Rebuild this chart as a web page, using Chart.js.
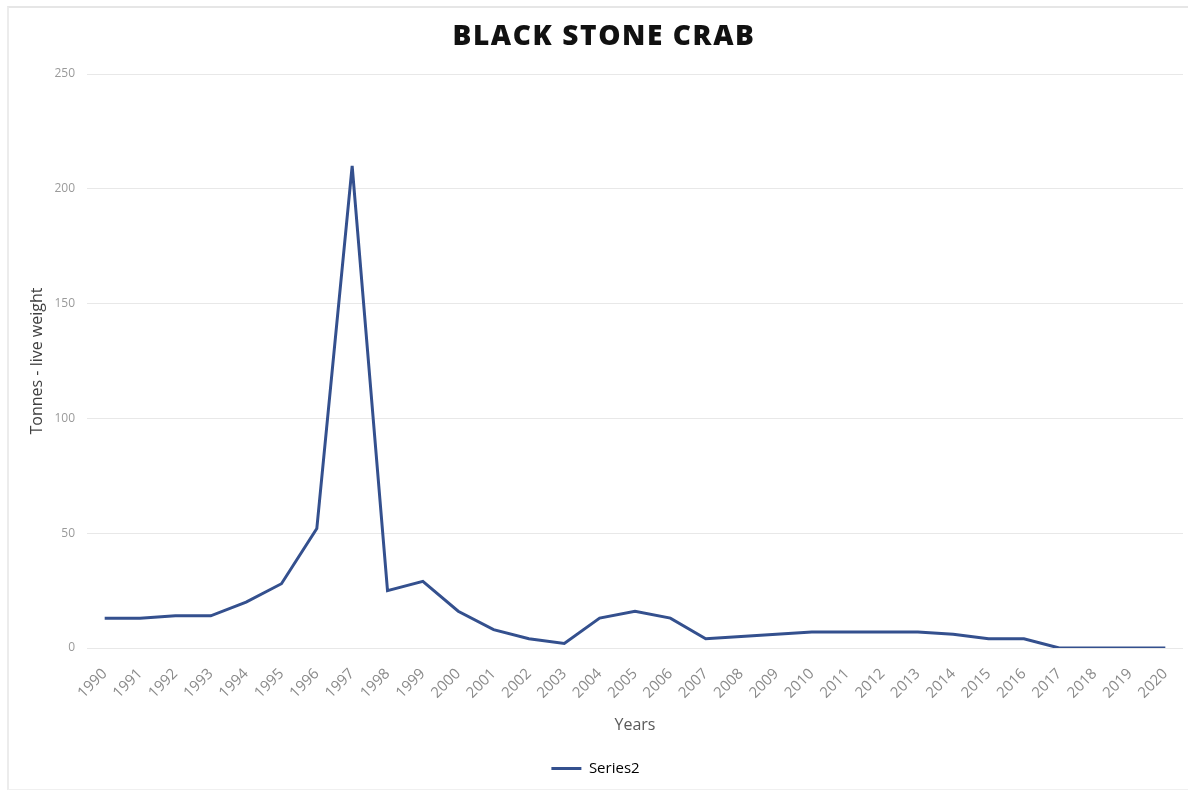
<!DOCTYPE html>
<html>
<head>
<meta charset="utf-8">
<script src="https://cdn.jsdelivr.net/npm/chart.js@4/dist/chart.umd.min.js"></script>
<style>
  html, body { margin: 0; padding: 0; background: #ffffff; }
  #wrap { position: relative; width: 1188px; height: 791px; }
  #frame {
    position: absolute; left: 7px; top: 6px; right: 0; bottom: 1px;
    border-top: 2px solid #e6e6e6; border-left: 2px solid #ececec; border-bottom: 1px solid #f0f0f0;
    pointer-events: none;
  }
  canvas { position: absolute; left: 0; top: 0; }
</style>
</head>
<body>
<div id="wrap">
  <canvas id="chart" width="1188" height="791"></canvas>
  <div id="frame"></div>
</div>
<script>
// Annual catch of black stone crab, tonnes live weight
const years = ['1990','1991','1992','1993','1994','1995','1996','1997','1998','1999',
               '2000','2001','2002','2003','2004','2005','2006','2007','2008','2009',
               '2010','2011','2012','2013','2014','2015','2016','2017','2018','2019','2020'];
const series2 = [13, 13, 14, 14, 20, 28, 52, 210, 25, 29,
                 16, 8, 4, 2, 13, 16, 13, 4, 5, 6,
                 7, 7, 7, 7, 6, 4, 4, 0, 0, 0, 0];
const yTicks = [0, 50, 100, 150, 200, 250];
const chartTitle = 'BLACK STONE CRAB';

const lineColor = '#34508e';

// Heading drawn above the plot with a little extra tracking
const headingPlugin = {
  id: 'heading',
  afterDraw(chart) {
    const ctx = chart.ctx;
    ctx.save();
    ctx.font = '800 28px "Open Sans"';
    ctx.fillStyle = '#111111';
    ctx.textAlign = 'center';
    ctx.textBaseline = 'middle';
    if ('letterSpacing' in ctx) ctx.letterSpacing = '1.6px';
    ctx.fillText(chartTitle, 604, 37);
    ctx.restore();
  }
};

new Chart(document.getElementById('chart'), {
  type: 'line',
  data: {
    labels: years,
    datasets: [{
      label: 'Series2',
      data: series2,
      borderColor: lineColor,
      backgroundColor: lineColor,
      borderWidth: 3,
      pointRadius: 0,
      tension: 0,
      fill: false
    }]
  },
  plugins: [headingPlugin],
  options: {
    responsive: false,
    animation: false,
    layout: { padding: { left: 8, right: 5, top: 74, bottom: 5 } },
    plugins: {
      title: { display: false },
      legend: {
        display: true,
        position: 'bottom',
        labels: {
          padding: 26,
          boxWidth: 30,
          boxHeight: 3,
          color: '#595959',
          font: { family: 'Open Sans', size: 15 },
          generateLabels: (chart) => chart.data.datasets.map((ds, i) => ({
            text: ds.label,
            fillStyle: ds.borderColor,
            strokeStyle: ds.borderColor,
            lineWidth: 0,
            datasetIndex: i
          }))
        }
      },
      tooltip: { enabled: false }
    },
    scales: {
      x: {
        offset: true,
        grid: { display: false },
        border: { display: false },
        ticks: {
          minRotation: 45,
          maxRotation: 45,
          autoSkip: false,
          color: '#8a8a8a',
          padding: 9,
          font: { family: 'Open Sans', size: 15 }
        },
        title: {
          display: true,
          text: 'Years',
          color: '#595959',
          font: { family: 'Open Sans', size: 16 },
          padding: { top: 8, bottom: 0 }
        },
        afterFit: (scale) => { scale.height = 87; }
      },
      y: {
        min: 0,
        max: 250,
        afterBuildTicks: (scale) => { scale.ticks = yTicks.map(v => ({ value: v })); },
        grid: { color: '#e8e8e8', lineWidth: 1, drawTicks: false },
        border: { display: false },
        ticks: {
          color: '#9a9a9a',
          padding: 12,
          font: { family: 'Open Sans', size: 12 }
        },
        title: {
          display: true,
          text: 'Tonnes - live weight',
          color: '#404040',
          font: { family: 'Open Sans', size: 16 },
          padding: { top: 20, bottom: 0 }
        },
        afterFit: (scale) => { scale.width = 79; }
      }
    }
  }
});
</script>
</body>
</html>
